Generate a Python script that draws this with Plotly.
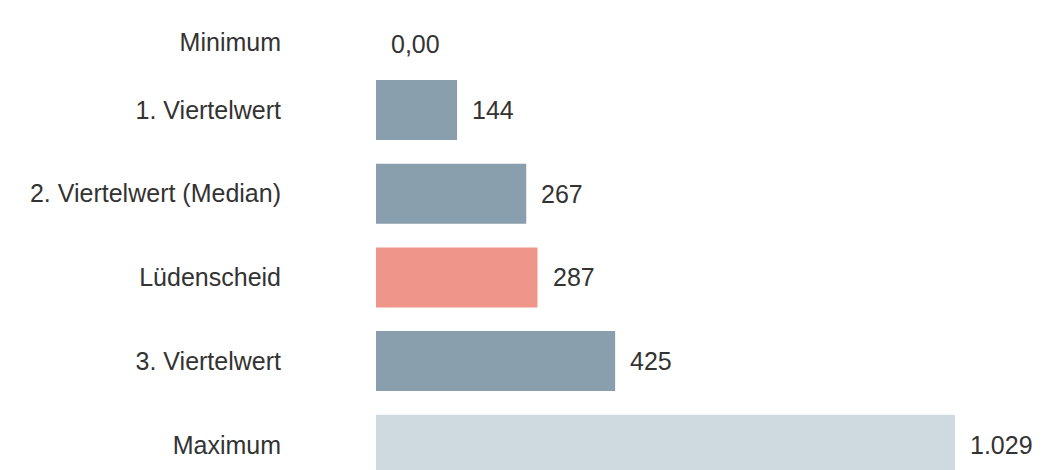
import plotly.graph_objects as go

# Kennwerte der Verteilung (Werte wie beschriftet)
categories = ["Minimum", "1. Viertelwert", "2. Viertelwert (Median)",
              "Lüdenscheid", "3. Viertelwert", "Maximum"]
values = [0.0, 144, 267, 287, 425, 1029]
value_labels = ["0,00", "144", "267", "287", "425", "1.029"]

QUART = "#899fae"
CITY = "#f0958a"
EXTREME = "#cfd9e0"
bar_colors = [QUART, QUART, QUART, CITY, QUART, EXTREME]

FONT = dict(family="Liberation Sans, Arial, sans-serif", size=25, color="#333333")

# the first row (it has no visible bar) sits a little lower than its slot
FIRST_ROW_DROP = 18


def lowered(label, i):
    return "<br>" + label if i == 0 else label


fig = go.Figure(
    go.Bar(
        x=values,
        y=categories,
        orientation="h",
        marker=dict(color=bar_colors, line=dict(width=0)),
        hoverinfo="skip",
    )
)

# value labels to the right of each bar
for i, (cat, val, lab) in enumerate(zip(categories, values, value_labels)):
    fig.add_annotation(
        x=val, y=cat, text=lab, showarrow=False,
        xanchor="left", yanchor="middle", xshift=13,
        yshift=-FIRST_ROW_DROP if i == 0 else 0,
        font=FONT,
    )

fig.update_layout(
    width=1043, height=470,
    margin=dict(l=376, r=3, t=0, b=0),
    paper_bgcolor="white", plot_bgcolor="white",
    bargap=0.283,
    showlegend=False,
    font=FONT,
)
fig.update_xaxes(range=[0, 1180], visible=False)
fig.update_yaxes(
    type="category",
    range=[5.301, -0.314],
    tickvals=categories,
    ticktext=[lowered(c, i) for i, c in enumerate(categories)],
    showgrid=False, zeroline=False, showline=False,
    ticks="", ticklabelstandoff=94,
    tickfont=FONT,
)

fig.write_html("out.html")
